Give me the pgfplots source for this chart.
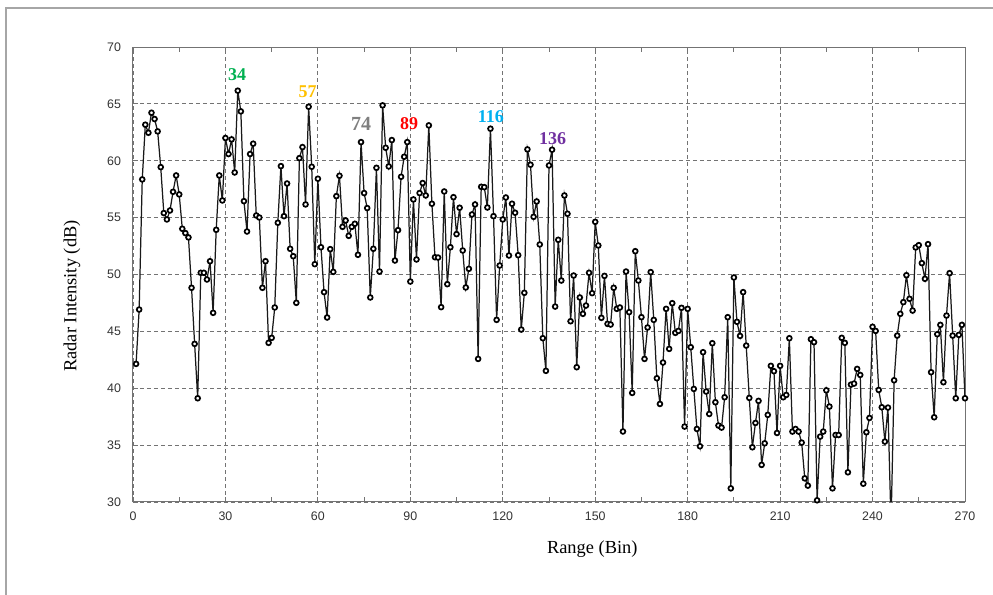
\documentclass[border=0pt]{standalone}
\usepackage{pgfplots}
\pgfplotsset{compat=1.18}
\usepackage{pgfplotstable}
\usepackage{fontspec}
\setmainfont{Liberation Serif}
\newfontfamily\arialfont{Liberation Sans}
\definecolor{lblgreen}{HTML}{00B050}
\definecolor{lblgold}{HTML}{FFC000}
\definecolor{lblgray}{HTML}{7F7F7F}
\definecolor{lblred}{HTML}{FF0000}
\definecolor{lblblue}{HTML}{00B0F0}
\definecolor{lblpurple}{HTML}{7030A0}

\pgfplotstableread{
x y
1 42.14
2 46.92
3 58.36
4 63.17
5 62.46
6 64.22
7 63.67
8 62.58
9 59.44
10 55.40
11 54.84
12 55.63
13 57.27
14 58.71
15 57.04
16 54.02
17 53.64
18 53.26
19 48.83
20 43.90
21 39.12
22 50.15
23 50.15
24 49.56
25 51.17
26 46.63
27 53.93
28 58.71
29 56.51
30 62.00
31 60.59
32 61.88
33 58.97
34 66.16
35 64.34
36 56.45
37 53.78
38 60.59
39 61.50
40 55.19
41 55.01
42 48.83
43 51.17
44 43.99
45 44.43
46 47.10
47 54.55
48 59.53
49 55.13
50 58.00
51 52.26
52 51.61
53 47.51
54 60.23
55 61.20
56 56.16
57 64.75
58 59.47
59 50.91
60 58.42
61 52.40
62 48.45
63 46.22
64 52.23
65 50.23
66 56.89
67 58.68
68 54.19
69 54.75
70 53.40
71 54.19
72 54.46
73 51.73
74 61.64
75 57.16
76 55.84
77 47.98
78 52.26
79 59.38
80 50.26
81 64.87
82 61.14
83 59.50
84 61.82
85 51.23
86 53.90
87 58.59
88 60.35
89 61.64
90 49.38
91 56.60
92 51.32
93 57.16
94 58.04
95 56.95
96 63.11
97 56.22
98 51.52
99 51.49
100 47.13
101 57.30
102 49.15
103 52.40
104 56.80
105 53.55
106 55.87
107 52.11
108 48.86
109 50.50
110 55.28
111 56.16
112 42.58
113 57.71
114 57.68
115 55.89
116 62.82
117 55.13
118 46.01
119 50.79
120 54.84
121 56.77
122 51.67
123 56.22
124 55.43
125 51.70
126 45.16
127 48.39
128 61.00
129 59.65
130 55.07
131 56.42
132 52.64
133 44.40
134 41.53
135 59.59
136 60.97
137 47.18
138 53.05
139 49.47
140 56.95
141 55.34
142 45.89
143 49.91
144 41.85
145 47.98
146 46.54
147 47.27
148 50.15
149 48.36
150 54.63
151 52.55
152 46.19
153 49.88
154 45.66
155 45.60
156 48.83
157 46.98
158 47.10
159 36.20
160 50.26
161 46.69
162 39.59
163 52.05
164 49.47
165 46.25
166 42.58
167 45.34
168 50.21
169 46.01
170 40.88
171 38.62
172 42.26
173 46.98
174 43.46
175 47.48
176 44.87
177 45.04
178 47.07
179 36.63
180 46.98
181 43.61
182 39.94
183 36.42
184 34.90
185 43.17
186 39.71
187 37.74
188 43.96
189 38.77
190 36.72
191 36.54
192 39.21
193 46.25
194 31.20
195 49.74
196 45.84
197 44.60
198 48.45
199 43.75
200 39.15
201 34.81
202 36.95
203 38.89
204 33.26
205 35.16
206 37.66
207 41.97
208 41.50
209 36.07
210 41.97
211 39.21
212 39.41
213 44.40
214 36.19
215 36.42
216 36.19
217 35.22
218 32.08
219 31.44
220 44.31
221 44.05
222 30.15
223 35.75
224 36.19
225 39.82
226 38.39
227 31.20
228 35.89
229 35.89
230 44.43
231 43.99
232 32.61
233 40.32
234 40.41
235 41.70
236 41.17
237 31.61
238 36.13
239 37.39
240 45.40
241 45.04
242 39.85
243 38.33
244 35.31
245 38.30
246 28.00
247 40.70
248 44.63
249 46.54
250 47.57
251 49.94
252 47.86
253 46.83
254 52.38
255 52.58
256 51.00
257 49.62
258 52.67
259 41.41
260 37.45
261 44.75
262 45.57
263 40.53
264 46.39
265 50.12
266 44.63
267 39.12
268 44.69
269 45.57
270 39.12
}\datatable

\begin{document}
\begin{tikzpicture}
\useasboundingbox (-66.5pt,-46.5pt) rectangle (430pt,251pt);
\draw[color=black!35, line width=1.2pt] (-63.5pt,-46.5pt) -- (-63.5pt,247pt) -- (430pt,247pt);
\begin{axis}[
  at={(0pt,0pt)}, anchor=south west,
  scale only axis, width=416pt, height=227.5pt,
  xmin=0, xmax=270, ymin=30, ymax=70,
  xtick={0,30,...,270}, ytick={30,35,...,70},
  minor x tick num=1,
  grid=major,
  major grid style={dash pattern=on 2pt off 1.5pt, color=black!55, line width=0.45pt},
  axis line style={color=black!55, line width=0.5pt},
  tick style={color=black!55, line width=0.45pt},
  major tick length=2.5pt, minor tick length=2.5pt,
  tick align=inside,
  ticklabel style={font=\arialfont\fontsize{6.2}{7}\selectfont, text=black!80},
  /pgf/number format/assume math mode=true,
  xticklabel style={yshift=-1.5pt},
  yticklabel style={xshift=-2.5pt},
  xlabel={Range (Bin)}, ylabel={Radar Intensity (dB)},
  label style={font=\fontsize{9.2}{10}\selectfont},
  xlabel style={at={(axis description cs:0.552,-0.1033)}, anchor=center},
  ylabel style={at={(axis description cs:-0.0733,0.4527)}, anchor=center},
]
\addplot[black!90, line width=0.62pt, no marks] table {\datatable};
\addplot[only marks, mark=*, mark size=1.2pt,
  mark options={line width=0.85pt, draw=black, fill=white},
  restrict y to domain=29.5:71] table {\datatable};
\node[font=\bfseries\fontsize{9}{9}\selectfont, text=lblgreen] at (axis cs:33.8,67.54) {34};
\node[font=\bfseries\fontsize{9}{9}\selectfont, text=lblgold] at (axis cs:56.7,66.07) {57};
\node[font=\bfseries\fontsize{10}{10}\selectfont, text=lblgray] at (axis cs:74.0,63.23) {74};
\node[font=\bfseries\fontsize{9}{9}\selectfont, text=lblred] at (axis cs:89.6,63.23) {89};
\node[font=\bfseries\fontsize{9}{9}\selectfont, text=lblblue] at (axis cs:116.1,63.87) {116};
\node[font=\bfseries\fontsize{9}{9}\selectfont, text=lblpurple] at (axis cs:136.2,61.97) {136};
\end{axis}
\end{tikzpicture}
\end{document}
